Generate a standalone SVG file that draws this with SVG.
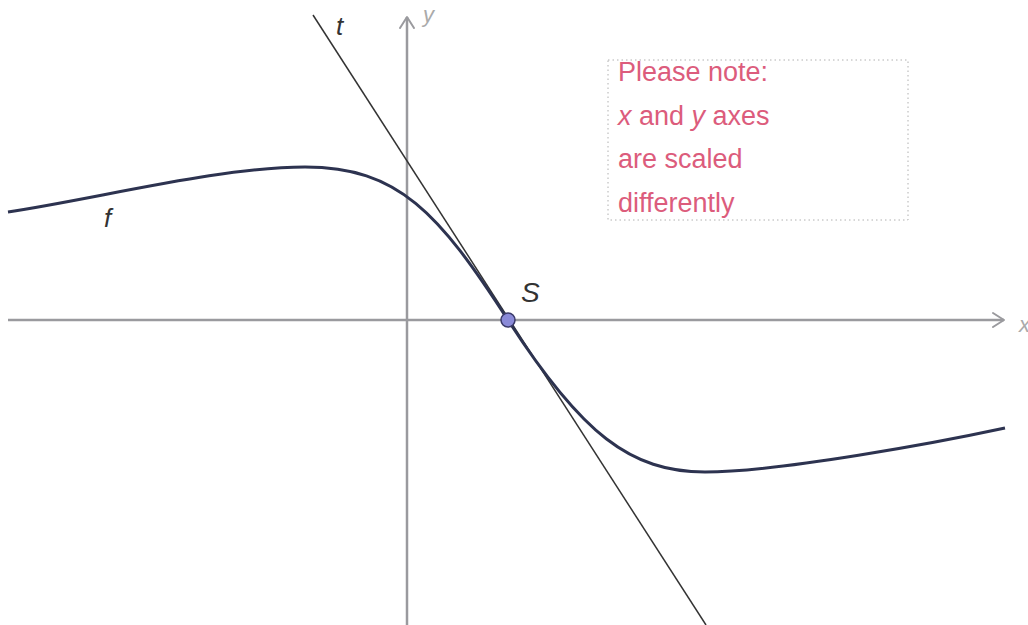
<svg xmlns="http://www.w3.org/2000/svg" width="1028" height="625" viewBox="0 0 1028 625">
<style>
.axis{stroke:#9a9a9e;stroke-width:2.5;fill:none}
.head{stroke:#9a9a9e;stroke-width:2;fill:none;stroke-linecap:round;stroke-linejoin:round}
.lbl{font-family:"Liberation Sans",Arial,sans-serif;font-style:italic;fill:#333}
.note{font-family:"Liberation Sans",Arial,sans-serif;font-size:27px;fill:#dc5c7c}
</style>
<rect width="1028" height="625" fill="#ffffff"/>
<g id="axes">
<line class="axis" x1="8" y1="320" x2="1004" y2="320"/>
<polyline class="head" points="993,313 1004,320 993,327"/>
<line class="axis" x1="407" y1="625" x2="407" y2="17"/>
<polyline class="head" points="400,28 407,17 414,28"/>
<text class="lbl" x="1019" y="332" font-size="22" style="fill:#aaa">x</text>
<text class="lbl" x="423" y="22" font-size="22" style="fill:#aaa">y</text>
</g>
<g id="connectors">
<line id="tangent" x1="313" y1="15" x2="706" y2="625" stroke="#333" stroke-width="1.5"/>
<path id="curve-f" d="M8,212 C100,198 220,167 305,167 C398.6,167 438.7,212.9 508,320 C581.5,434 630.75,472 705,472 S940,442 1005,428" fill="none" stroke="#2d3350" stroke-width="3"/>
</g>
<g id="label-t"><text class="lbl" x="336" y="35" font-size="26">t</text></g>
<g id="label-f"><text class="lbl" x="104" y="227" font-size="26">f</text></g>
<g id="point-S">
<circle cx="508" cy="320" r="7" fill="#8a8ad8" stroke="#3a3a6a" stroke-width="1.5"/>
<text class="lbl" x="521" y="302" font-size="28">S</text>
</g>
<g id="note">
<rect x="608" y="60" width="300" height="160" fill="none" stroke="#b0b0b0" stroke-width="1" stroke-dasharray="1.5,3"/>
<text class="note" x="618" y="81">Please note:</text>
<text class="note" x="618" y="125"><tspan font-style="italic">x</tspan> and <tspan font-style="italic">y</tspan> axes</text>
<text class="note" x="618" y="168">are scaled</text>
<text class="note" x="618" y="212">differently</text>
</g>
</svg>
